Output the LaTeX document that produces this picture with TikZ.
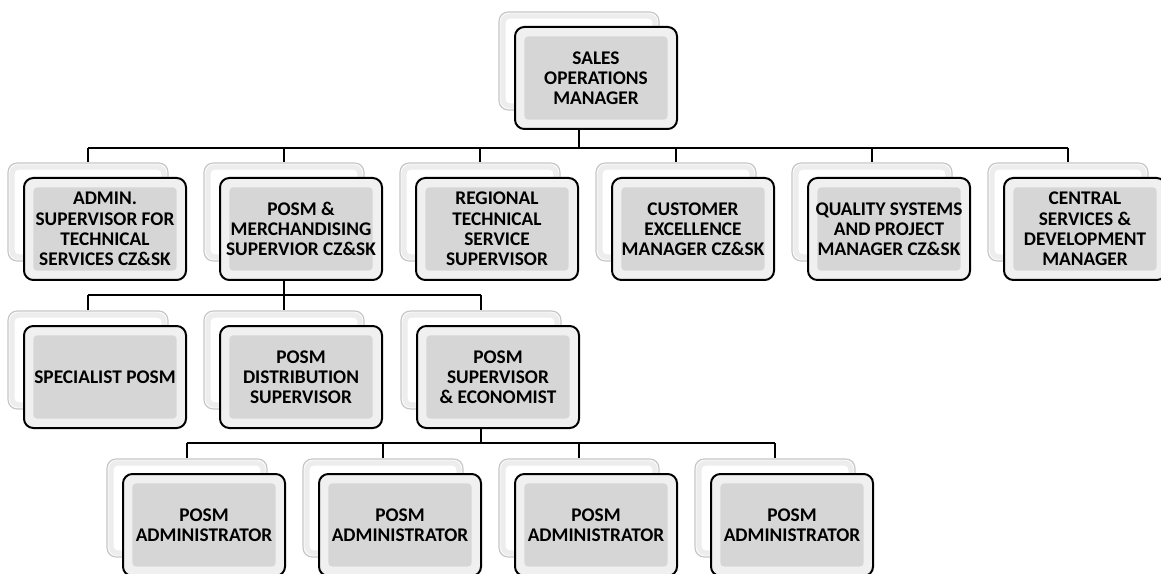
\documentclass[tikz,border=0pt]{standalone}
\usepackage{fontspec}
\setmainfont{Carlito}
\usetikzlibrary{positioning}
\usetikzlibrary{backgrounds}

\tikzset{
  backbox/.style={draw=gray!45, line width=0.9pt, fill=white, rounded corners=7pt,
    minimum width=120pt, minimum height=73.5pt,
    path picture={\draw[gray!14, line width=4pt, rounded corners=5pt]
      ([shift={(3pt,3pt)}]path picture bounding box.south west) rectangle
      ([shift={(-3pt,-3pt)}]path picture bounding box.north east);}},
  frontbox/.style={draw=black, line width=1.5pt, fill=gray!12, rounded corners=7pt,
    minimum width=121.5pt, minimum height=76.5pt, align=center, text=black,
    inner sep=1pt, font=\fontsize{14.5}{15.2}\selectfont\bfseries,
    path picture={\fill[gray!32, rounded corners=3pt]
      ([shift={(7pt,7pt)}]path picture bounding box.south west) rectangle
      ([shift={(-7pt,-7pt)}]path picture bounding box.north east);}},
  link/.style={line width=1.1pt}
}

\begin{document}
\begin{tikzpicture}[x=0.75pt,y=-0.75pt]
  \useasboundingbox (0,0) rectangle (1161,574);

  \def \dx {17}
  \def \dy {17}

  % top
  \node[backbox] (som-b) at (579,61) {};
  \node[frontbox] (som) at (579+\dx,61+\dy) {SALES\\OPERATIONS\\MANAGER};

  % second row
  \foreach \n/\x/\t in {adm/88/{ADMIN.\\SUPERVISOR FOR\\TECHNICAL\\SERVICES CZ\&SK},
      pmc/284/{POSM \&\\MERCHANDISING\\SUPERVIOR CZ\&SK},
      rts/480/{REGIONAL\\TECHNICAL\\SERVICE\\SUPERVISOR},
      cem/676/{CUSTOMER\\EXCELLENCE\\MANAGER CZ\&SK},
      qsp/872/{QUALITY SYSTEMS\\AND PROJECT\\MANAGER CZ\&SK},
      csd/1068/{CENTRAL\\SERVICES \&\\DEVELOPMENT\\MANAGER}} {
    \node[backbox] (\n-b) at (\x,212) {};
    \node[frontbox] (\n) at (\x+\dx,212+\dy) {\t};
  }

  % third row
  \foreach \n/\x/\t in {spe/88/{SPECIALIST POSM},
      pds/284/{POSM\\DISTRIBUTION\\SUPERVISOR},
      pse/481/{POSM\\SUPERVISOR\\\& ECONOMIST}} {
    \node[backbox] (\n-b) at (\x,360) {};
    \node[frontbox] (\n) at (\x+\dx,360+\dy) {\t};
  }

  % fourth row
  \foreach \n/\x in {pa1/187,pa2/383,pa3/579,pa4/775} {
    \node[backbox] (\n-b) at (\x,508) {};
    \node[frontbox] (\n) at (\x+\dx,508+\dy) {POSM\\ADMINISTRATOR};
  }

  \coordinate (bus1) at (0,148);
  \coordinate (bus2) at (0,295);
  \coordinate (bus3) at (0,443);

  \begin{scope}[on background layer]
    \draw[link] (som-b.south) -- (som-b.south |- bus1);
    \draw[link] (adm-b.north |- bus1) -- (csd-b.north |- bus1);
    \foreach \n in {adm,pmc,rts,cem,qsp,csd}
      \draw[link] (\n-b.north |- bus1) -- (\n-b.north);

    \draw[link] (pmc-b.south) -- (pmc-b.south |- bus2);
    \draw[link] (spe-b.north |- bus2) -- (pse-b.north |- bus2);
    \foreach \n in {spe,pds,pse}
      \draw[link] (\n-b.north |- bus2) -- (\n-b.north);

    \draw[link] (pse-b.south) -- (pse-b.south |- bus3);
    \draw[link] (pa1-b.north |- bus3) -- (pa4-b.north |- bus3);
    \foreach \n in {pa1,pa2,pa3,pa4}
      \draw[link] (\n-b.north |- bus3) -- (\n-b.north);
  \end{scope}

\end{tikzpicture}
\end{document}
